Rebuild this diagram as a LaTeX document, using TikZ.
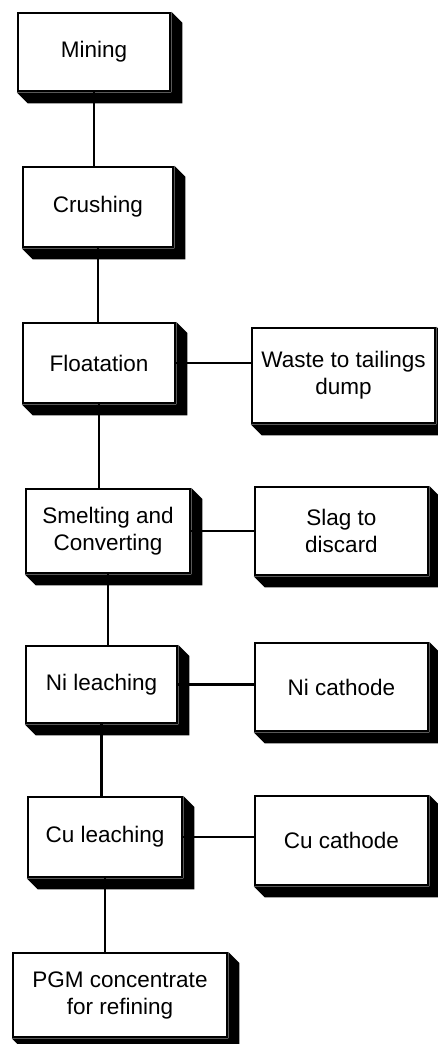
\documentclass[tikz,border=0pt]{standalone}
\usepackage{fontspec}
\setmainfont{Liberation Sans}
\tikzset{%
  proc/.style = {rectangle,draw,line width=2.5pt,fill=white,align=center,
        inner sep=2pt,font=\fontsize{22.5}{27}\selectfont},
  link/.style = {line width=2.6pt},
  boxshadow/.style = {fill=black}
}

\begin{document}
\begin{tikzpicture}[x=1pt,y=1pt]
                \useasboundingbox (0,0) rectangle (437,-1044);
                % main process column
                \node[proc, minimum width=152, minimum height=78] (mining) at (94,-52) {Mining};
                \node[proc, minimum width=150, minimum height=80] (crushing) at (98,-207) {Crushing};
                \node[proc, minimum width=152, minimum height=80] (floatation) at (99,-363) {Floatation};
                \node[proc, minimum width=164, minimum height=84] (smelting) at (108,-531) {Smelting and\\Converting};
                \node[proc, minimum width=151, minimum height=77] (nileach) at (101.5,-684.5) {Ni leaching};
                \node[proc, minimum width=154, minimum height=80] (culeach) at (105,-837) {Cu leaching};
                \node[proc, minimum width=214, minimum height=84] (pgm) at (120,-995) {PGM concentrate\\for refining};
                % side products
                \node[proc, minimum width=183, minimum height=95] (waste) at (343.5,-375.5) {Waste to tailings\\dump};
                \node[proc, minimum width=173, minimum height=88] (slag) at (341.5,-531) {Slag to\\discard};
                \node[proc, minimum width=173, minimum height=88] (nicath) at (341.5,-687) {Ni cathode};
                \node[proc, minimum width=173, minimum height=89] (cucath) at (341.5,-840.5) {Cu cathode};

                \foreach \n in {mining,crushing,floatation,smelting,nileach,culeach,pgm,waste,slag,nicath,cucath}
                  \fill[boxshadow] (\n.south west) -- ++(11,-11) -| ([shift={(11,-11)}]\n.north east)
                        -- (\n.north east) -- (\n.south east) -- cycle;

                \draw[link] (mining.south) -- (mining.south |- crushing.north)
                            (crushing.south) -- (crushing.south |- floatation.north)
                            (floatation.south) -- (floatation.south |- smelting.north)
                            (smelting.south) -- (smelting.south |- nileach.north)
                            (nileach.south) -- (nileach.south |- culeach.north)
                            (culeach.south) -- (culeach.south |- pgm.north);
                \draw[link] (floatation.east) -- (floatation.east -| waste.west)
                            (smelting.east) -- (smelting.east -| slag.west)
                            (nileach.east) -- (nileach.east -| nicath.west)
                            (culeach.east) -- (culeach.east -| cucath.west);
            \end{tikzpicture}
\end{document}
